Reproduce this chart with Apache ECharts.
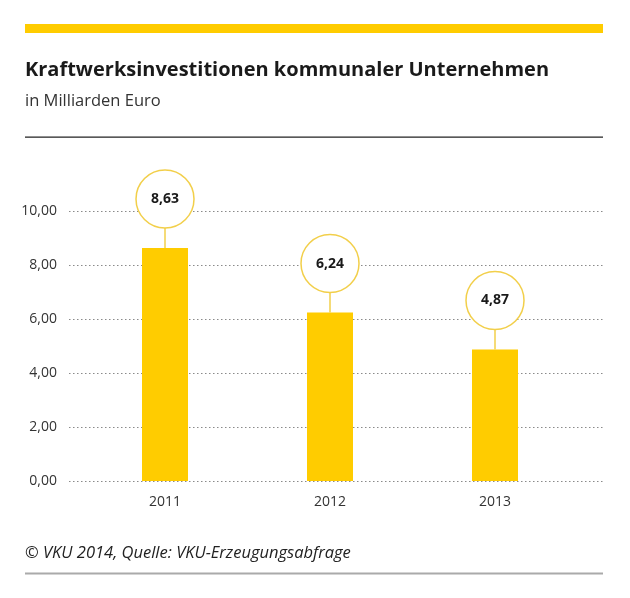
<!DOCTYPE html>
<html>
<head>
<meta charset="utf-8">
<script src="https://cdn.jsdelivr.net/npm/echarts@6/dist/echarts.min.js"></script>
<style>
html,body{margin:0;padding:0;background:#fff;}
#chart{width:630px;height:598px;}
</style>
</head>
<body>
<div id="chart"></div>
<script>
const categories = ['2011', '2012', '2013'];
const values = [8.63, 6.24, 4.87];
const yTicks = [0, 2, 4, 6, 8, 10];

const YELLOW = '#FFCC00';
const fmt = v => v.toFixed(2).replace('.', ',');

const chart = echarts.init(document.getElementById('chart'), null, {renderer: 'canvas'});

const option = {
  backgroundColor: '#ffffff',
  animation: false,
  grid: [
    {left: 69, right: 27, top: 211, height: 270},
    {left: 82.5, right: 52.5, top: 211, height: 270}
  ],
  xAxis: [
    {gridIndex: 0, type: 'value', min: 0, max: 1, show: false},
    {
      gridIndex: 1, type: 'category', data: categories,
      axisLine: {show: false}, axisTick: {show: false},
      axisLabel: {color: '#333', fontSize: 14, fontFamily: 'Open Sans', margin: 14}
    }
  ],
  yAxis: [
    {
      gridIndex: 0, type: 'value', min: yTicks[0], max: yTicks[yTicks.length - 1], interval: 2,
      axisLine: {show: false}, axisTick: {show: false},
      axisLabel: {color: '#333', fontSize: 14, fontFamily: 'Open Sans', margin: 12, formatter: v => fmt(v)},
      splitLine: {show: true, lineStyle: {color: '#8a8a8a', type: [1.5, 2.5], width: 1.2}}
    },
    {gridIndex: 1, type: 'value', min: 0, max: 10, show: false}
  ],
  graphic: [
    {type: 'rect', shape: {x: 25, y: 24, width: 578, height: 9}, style: {fill: YELLOW}},
    {type: 'text', style: {text: 'Kraftwerksinvestitionen kommunaler Unternehmen', x: 25, y: 70,
      font: 'bold 20px "Open Sans"', fill: '#1a1a1a', textVerticalAlign: 'middle'}},
    {type: 'text', style: {text: 'in Milliarden Euro', x: 25, y: 101,
      font: '16.5px "Open Sans"', fill: '#333', textVerticalAlign: 'middle'}},
    {type: 'rect', shape: {x: 25, y: 136.5, width: 578, height: 1.2}, style: {fill: '#222'}},
    {type: 'text', style: {text: '\u00A9 VKU 2014, Quelle: VKU-Erzeugungsabfrage', x: 25, y: 553,
      font: 'italic 16.5px "Open Sans"', fill: '#222', textVerticalAlign: 'middle'}},
    {type: 'rect', shape: {x: 25, y: 572.5, width: 578, height: 2}, style: {fill: '#aaaaaa'}}
  ],
  series: [
    {
      type: 'bar', xAxisIndex: 1, yAxisIndex: 1, data: values,
      barWidth: 46, itemStyle: {color: YELLOW}
    },
    {
      type: 'custom', xAxisIndex: 1, yAxisIndex: 1, clip: false, z: 5,
      data: values.map((v, i) => [i, v]),
      renderItem: function (params, api) {
        const p = api.coord([api.value(0), api.value(1)]);
        const r = 29;
        const gap = 20;
        const cy = p[1] - gap - r;
        return {
          type: 'group',
          children: [
            {type: 'line', shape: {x1: p[0], y1: p[1], x2: p[0], y2: p[1] - gap},
              style: {stroke: '#F2CF4A', lineWidth: 1.5}},
            {type: 'circle', shape: {cx: p[0], cy: cy, r: r},
              style: {fill: '#fff', stroke: '#F2CF4A', lineWidth: 1.5}},
            {type: 'text', style: {text: fmt(api.value(1)), x: p[0], y: cy,
              textAlign: 'center', textVerticalAlign: 'middle',
              font: 'bold 14px "Open Sans"', fill: '#1a1a1a'}}
          ]
        };
      }
    }
  ]
};
chart.setOption(option);
</script>
</body>
</html>
